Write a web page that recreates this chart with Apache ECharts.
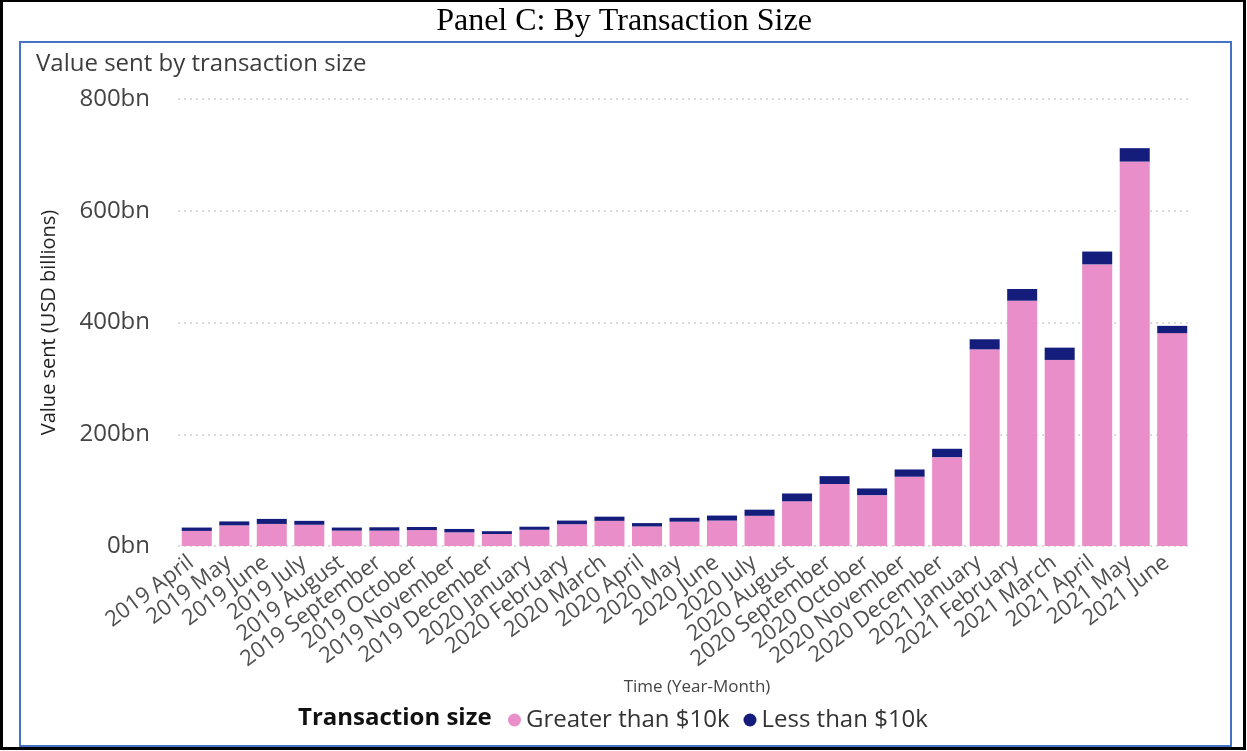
<!DOCTYPE html>
<html>
<head>
<meta charset="utf-8">
<script src="https://cdn.jsdelivr.net/npm/echarts@6/dist/echarts.min.js"></script>
<style>
html,body{margin:0;padding:0;background:#fff;}
#c{width:1247px;height:751px;}
</style>
</head>
<body>
<div id="c"></div>
<script>
const categories = [
  "2019 April","2019 May","2019 June","2019 July","2019 August","2019 September",
  "2019 October","2019 November","2019 December","2020 January","2020 February",
  "2020 March","2020 April","2020 May","2020 June","2020 July","2020 August",
  "2020 September","2020 October","2020 November","2020 December","2021 January",
  "2021 February","2021 March","2021 April","2021 May","2021 June"
];
const greaterThan10k = [27, 37, 39.5, 38, 27.5, 27.5, 28.5, 24.5, 21.5, 29, 39, 45, 35, 43.5, 45.5, 54, 80, 111, 91, 124, 159, 352, 439, 333, 504, 688, 381];
const lessThan10k = [6, 7, 9, 7, 5.5, 6, 5.5, 6, 5, 5.5, 6.5, 7.5, 6, 7, 9, 11, 14, 14, 12, 13, 15, 18, 21, 22, 23, 24, 13];

const PINK = '#E98EC8';
const NAVY = '#151D7C';
const FONT = '"Open Sans", "Noto Sans", sans-serif';

const chart = echarts.init(document.getElementById('c'), null, {renderer: 'canvas'});
chart.setOption({
  animation: false,
  backgroundColor: '#fff',
  textStyle: {fontFamily: FONT},
  graphic: [
    {type: 'rect', shape: {x: 1.5, y: 0.5, width: 1243, height: 748}, style: {fill: 'none', stroke: '#000', lineWidth: 3}, silent: true},
    {type: 'rect', shape: {x: 20, y: 42, width: 1211, height: 704}, style: {fill: 'none', stroke: '#4472C4', lineWidth: 2}, silent: true},
    {type: 'text', x: 624, y: 22, style: {text: 'Panel C: By Transaction Size', font: '32px "Liberation Serif", "Times New Roman", serif', fill: '#000', align: 'center', verticalAlign: 'middle'}},
    {type: 'text', x: 36, y: 64, style: {text: 'Value sent by transaction size', font: '24px ' + FONT, fill: '#3c3c3c', align: 'left', verticalAlign: 'middle'}},
    {type: 'text', x: 697, y: 687, style: {text: 'Time (Year-Month)', font: '17px ' + FONT, fill: '#444', align: 'center', verticalAlign: 'middle'}},
    {type: 'text', x: 298, y: 718, style: {text: 'Transaction size', font: 'bold 24px ' + FONT, fill: '#111', align: 'left', verticalAlign: 'middle'}}
  ],
  legend: {
    left: 503, top: 703,
    icon: 'circle', itemWidth: 13, itemHeight: 13, itemGap: 14,
    textStyle: {fontSize: 24, color: '#333', fontFamily: FONT},
    data: ['Greater than $10k', 'Less than $10k']
  },
  grid: {left: 178, right: 56, top: 99, bottom: 205, containLabel: false},
  xAxis: {
    type: 'category',
    data: categories,
    axisLine: {show: false},
    axisTick: {show: false},
    axisLabel: {interval: 0, rotate: 37, fontSize: 22, color: '#505050', margin: 10, padding: [0, 7, 0, 0], fontFamily: FONT}
  },
  yAxis: {
    type: 'value',
    min: 0, max: 800, interval: 200,
    name: 'Value sent (USD billions)',
    nameLocation: 'middle',
    nameGap: 119,
    nameTextStyle: {fontSize: 20, color: '#222', fontFamily: FONT},
    axisLabel: {fontSize: 24, color: '#444', margin: 28, fontFamily: FONT, formatter: v => v + 'bn'},
    axisLine: {show: false},
    axisTick: {show: false},
    splitLine: {lineStyle: {type: [2, 4], color: '#d0d0d0', width: 1.5}}
  },
  series: [
    {name: 'Greater than $10k', type: 'bar', stack: 'total', data: greaterThan10k, barCategoryGap: '20%', itemStyle: {color: PINK}},
    {name: 'Less than $10k', type: 'bar', stack: 'total', data: lessThan10k, itemStyle: {color: NAVY}}
  ]
});
</script>
</body>
</html>
